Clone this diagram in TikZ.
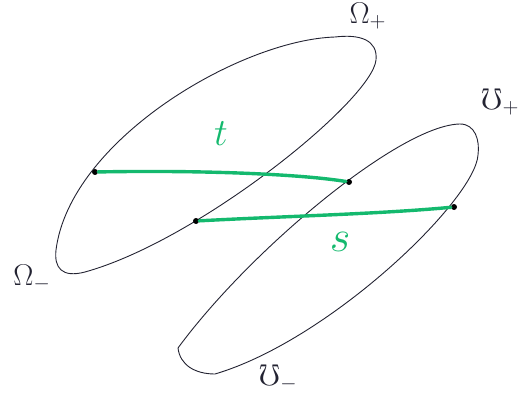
\documentclass[tikz,border=0pt]{standalone}
\usepackage{amssymb}
\definecolor{pen}{RGB}{20,185,110}
\definecolor{ink}{RGB}{35,35,50}
\tikzset{
  outline/.style={draw=ink, line width=0.9pt},
  chord/.style={draw=pen, line width=3.4pt, line cap=round},
  dot/.style={circle, fill=black, inner sep=0pt, minimum size=6pt},
  lbl/.style={text=ink, font=\huge, scale=1.45, inner sep=0pt},
  glbl/.style={text=pen, font=\Huge, scale=1.55, inner sep=0pt}
}
\begin{document}
\begin{tikzpicture}[x=1pt,y=-1pt]
\useasboundingbox (0,0) rectangle (519,398);
% first loop
\draw[outline] (376,60) .. controls (378,40) and (360,34) .. (335,37)
  .. controls (240,40) and (70,140) .. (56,250)
  .. controls (54,268) and (62,278) .. (85,272)
  .. controls (200,240) and (372,100) .. (376,60) -- cycle;
% second loop
\draw[outline] (178,348) .. controls (250,250) and (400,125) .. (460,124)
  .. controls (475,124) and (480,140) .. (478,155)
  .. controls (475,200) and (330,340) .. (215,374)
  .. controls (195,374) and (180,365) .. (178,348) -- cycle;
% points
\node[dot] (tl) at (95,172) {};
\node[dot] (tr) at (349,182) {};
\node[dot] (sl) at (196,221) {};
\node[dot] (sr) at (454,207) {};
\draw[chord] (tl) .. controls (200,170) and (300,174) .. (tr);
\draw[chord] (sl) .. controls (290,216) and (380,214) .. (sr);
% labels
\node[glbl] (t) at (221,134) {$t$};
\node[glbl, scale=1.15] (s) at (340,242) {$s$};
\node[lbl] (op) at (368,16) {$\Omega_+$};
\node[lbl] (om) at (32,278) {$\Omega_-$};
\node[lbl] (mp) at (500,102) {$\mho_+$};
\node[lbl] (mm) at (278,378) {$\mho_-$};
\end{tikzpicture}
\end{document}
